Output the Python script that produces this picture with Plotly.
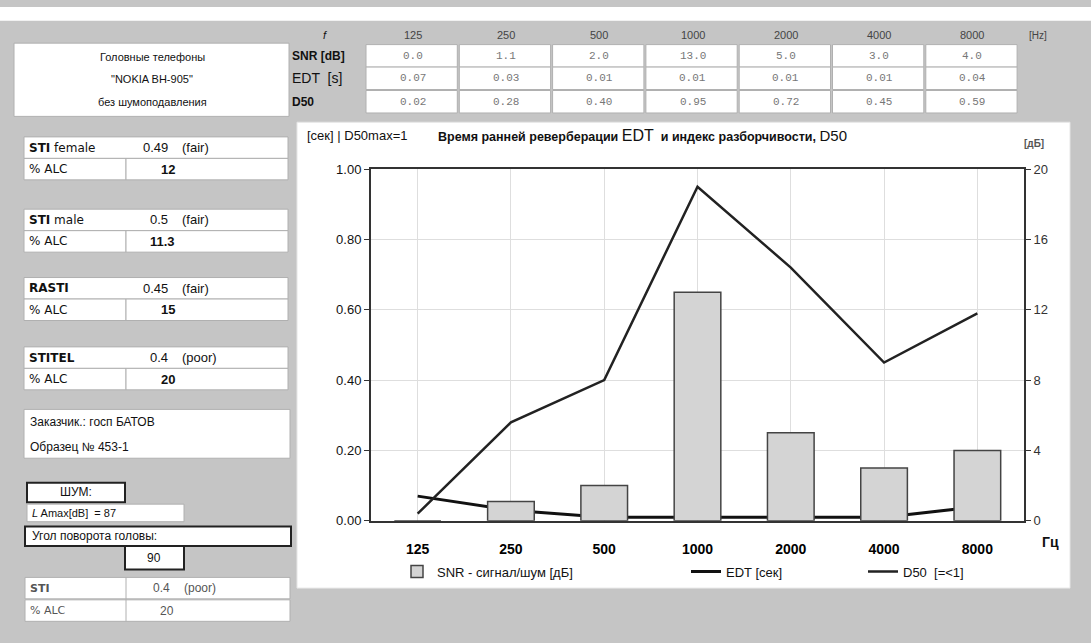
import plotly.graph_objects as go

W, H = 1091, 643

# ---------------- data ----------------
freqs = ["125", "250", "500", "1000", "2000", "4000", "8000"]
snr_db = [0.0, 1.1, 2.0, 13.0, 5.0, 3.0, 4.0]
edt_s = [0.07, 0.03, 0.01, 0.01, 0.01, 0.01, 0.04]
d50 = [0.02, 0.28, 0.40, 0.95, 0.72, 0.45, 0.59]

snr_txt = ["0.0", "1.1", "2.0", "13.0", "5.0", "3.0", "4.0"]
edt_txt = ["0.07", "0.03", "0.01", "0.01", "0.01", "0.01", "0.04"]
d50_txt = ["0.02", "0.28", "0.40", "0.95", "0.72", "0.45", "0.59"]

sti_labels = ["<b>STI</b> female", "<b>STI</b> male", "<b>RASTI</b>", "<b>STITEL</b>"]
sti_values = ["0.49", "0.5", "0.45", "0.4"]
sti_grades = ["(fair)", "(fair)", "(fair)", "(poor)"]
alc_values = ["12", "11.3", "15", "20"]

# ---------------- helpers ----------------
def px(x):
    return x / W


def py(y):
    return 1 - y / H


shapes = []
annos = []


def rect(x0, y0, x1, y1, fill="white", lc="#b0b0b0", lw=1, layer="below"):
    shapes.append(dict(type="rect", xref="paper", yref="paper",
                       x0=px(x0), x1=px(x1), y0=py(y1), y1=py(y0),
                       fillcolor=fill, line=dict(color=lc, width=lw), layer=layer))


def line(x0, y0, x1, y1, lc="#b0b0b0", lw=1):
    shapes.append(dict(type="line", xref="paper", yref="paper",
                       x0=px(x0), x1=px(x1), y0=py(y0), y1=py(y1),
                       line=dict(color=lc, width=lw), layer="below"))


def text(x, y, s, size=12, color="#111", anchor="left", family="Liberation Sans"):
    annos.append(dict(xref="paper", yref="paper", x=px(x), y=py(y), text=s,
                      showarrow=False, xanchor=anchor, yanchor="middle",
                      font=dict(size=size, color=color, family=family)))


# ---------------- background pieces ----------------
rect(0, 0, W, 14, fill="white", lc="rgba(0,0,0,0)", lw=0)   # white strip on top
rect(297, 118, 1070, 595, fill="white", lc="#e6e6e6", lw=1)  # chart panel

# header box
rect(14, 37, 289, 112)
text(152, 51, "Головные телефоны", 11, anchor="center")
text(152, 74, "\"NOKIA BH-905\"", 11, anchor="center")
text(152, 97, "без шумоподавления", 11, anchor="center")

# table
col0, colw = 366, 93.3
row_y = [50, 73, 97]
text(325, 29, "<i>f</i>", 11, anchor="center")
text(290, 50, "<b>SNR [dB]</b>", 12)
text(290, 73, "EDT  [s]", 14)
text(290, 97, "<b>D50</b>", 12)
for i, f in enumerate(freqs):
    cx = col0 + colw * (i + 0.5)
    text(cx, 29, f, 11, color="#444", anchor="center")
    for r, vals in enumerate([snr_txt, edt_txt, d50_txt]):
        rect(col0 + colw * i, row_y[r] - 11.5, col0 + colw * (i + 1) - 2, row_y[r] + 11.5)
        text(cx, row_y[r], vals[i], 11, color="#777", anchor="center", family="Liberation Mono")
text(1038, 29, "[Hz]", 10, color="#444", anchor="center")

# STI groups
tops = [133, 207, 277, 348]
for k, t in enumerate(tops):
    rect(24, t, 288, t + 22)
    rect(24, t + 22, 126, t + 44)
    rect(126, t + 22, 288, t + 44)
    text(27, t + 11, sti_labels[k], 12, family="DejaVu Sans")
    text(170, t + 11, sti_values[k], 13, anchor="right")
    text(180, t + 11, sti_grades[k], 13)
    text(27, t + 33, "% ALC", 12, family="DejaVu Sans")
    text(177, t + 33, "<b>" + alc_values[k] + "</b>", 13, anchor="right")

# customer box
rect(24, 412, 290, 462)
text(28, 425, "Заказчик.: госп БАТОВ", 12)
text(28, 451, "Образец № 453-1", 12)

# noise block
rect(27, 487, 125, 507, lc="#222", lw=2)
text(76, 497, "ШУМ:", 12, anchor="center")
rect(27, 509, 184, 527)
text(30, 518, "<i>L</i> Amax[dB]  = 87", 11)
rect(25, 532, 291, 552, lc="#222", lw=2)
text(30, 542, "Угол поворота головы:", 12)
rect(125, 552, 184, 576, lc="#222", lw=2)
text(154, 564, "90", 12, anchor="center")
rect(25, 584, 290, 606)
rect(25, 607, 290, 629)
line(126, 584, 126, 629)
text(28, 595, "<b>STI</b>", 11, color="#555", family="DejaVu Sans")
text(172, 595, "0.4", 12, color="#555", anchor="right")
text(182, 595, "(poor)", 12, color="#555")
text(28, 618, "% ALC", 11, color="#555", family="DejaVu Sans")
text(176, 618, "20", 12, color="#555", anchor="right")

# chart title and extra labels
text(305, 132, "[сек] | D50max=1", 13)
text(436, 132,
     "<b>Время ранней реверберации</b> <span style='font-size:16px'>EDT</span>"
     "  <b>и индекс разборчивости,</b> <span style='font-size:15px'>D50</span>", 12.5)
text(1034, 140, "<b>[дБ]</b>", 10, color="#555", anchor="center")
text(1050, 548, "<b>Гц</b>", 14, anchor="center")

# ---------------- traces ----------------
fig = go.Figure()
fig.add_trace(go.Bar(x=freqs, y=snr_db, yaxis="y2", width=0.5,
                     marker=dict(color="#d4d4d4", line=dict(color="#444", width=1.5)),
                     name="SNR - сигнал/шум [дБ]", legend="legend", showlegend=True))
fig.add_trace(go.Scatter(x=freqs, y=edt_s, mode="lines",
                         line=dict(color="#111", width=3),
                         name="EDT [сек]", legend="legend2", showlegend=True))
fig.add_trace(go.Scatter(x=freqs, y=d50, mode="lines",
                         line=dict(color="#222", width=2.5),
                         name="D50  [=<1]", legend="legend3", showlegend=True))

legfont = dict(size=13, color="#111", family="Liberation Sans")
leg_common = dict(yanchor="middle", xanchor="left", bgcolor="rgba(0,0,0,0)",
                  font=legfont, orientation="h")

fig.update_layout(
    width=W, height=H, autosize=False, showlegend=True,
    margin=dict(l=0, r=0, t=0, b=0),
    paper_bgcolor="#c5c5c5", plot_bgcolor="white",
    shapes=shapes, annotations=annos,
    barmode="overlay",
    xaxis=dict(domain=[px(371), px(1024)], type="category",
               showgrid=True, gridcolor="#dedede", gridwidth=1,
               showline=True, linecolor="#333", linewidth=2, mirror=True,
               ticks="", ticklabelstandoff=14,
               tickfont=dict(size=14, color="#000", family="Liberation Sans", weight="bold")),
    yaxis=dict(domain=[py(526), py(166)], range=[0, 1], dtick=0.2, tickformat=".2f",
               showgrid=True, gridcolor="#dedede", zeroline=False,
               showline=True, linecolor="#333", linewidth=2,
               ticks="outside", ticklen=5, tickcolor="#333",
               tickfont=dict(size=13, color="#111", family="Liberation Sans")),
    yaxis2=dict(overlaying="y", side="right", range=[0, 20], dtick=4,
                showgrid=False, zeroline=False,
                showline=True, linecolor="#333", linewidth=2,
                ticks="outside", ticklen=5, tickcolor="#333",
                tickfont=dict(size=13, color="#333", family="Liberation Sans")),
    legend=dict(x=px(397), y=py(578), **leg_common),
    legend2=dict(x=px(686), y=py(578), **leg_common),
    legend3=dict(x=px(863), y=py(578), **leg_common),
)

fig.write_html("out.html", config={"displayModeBar": False},
               post_script="document.body.style.margin='0px';")
